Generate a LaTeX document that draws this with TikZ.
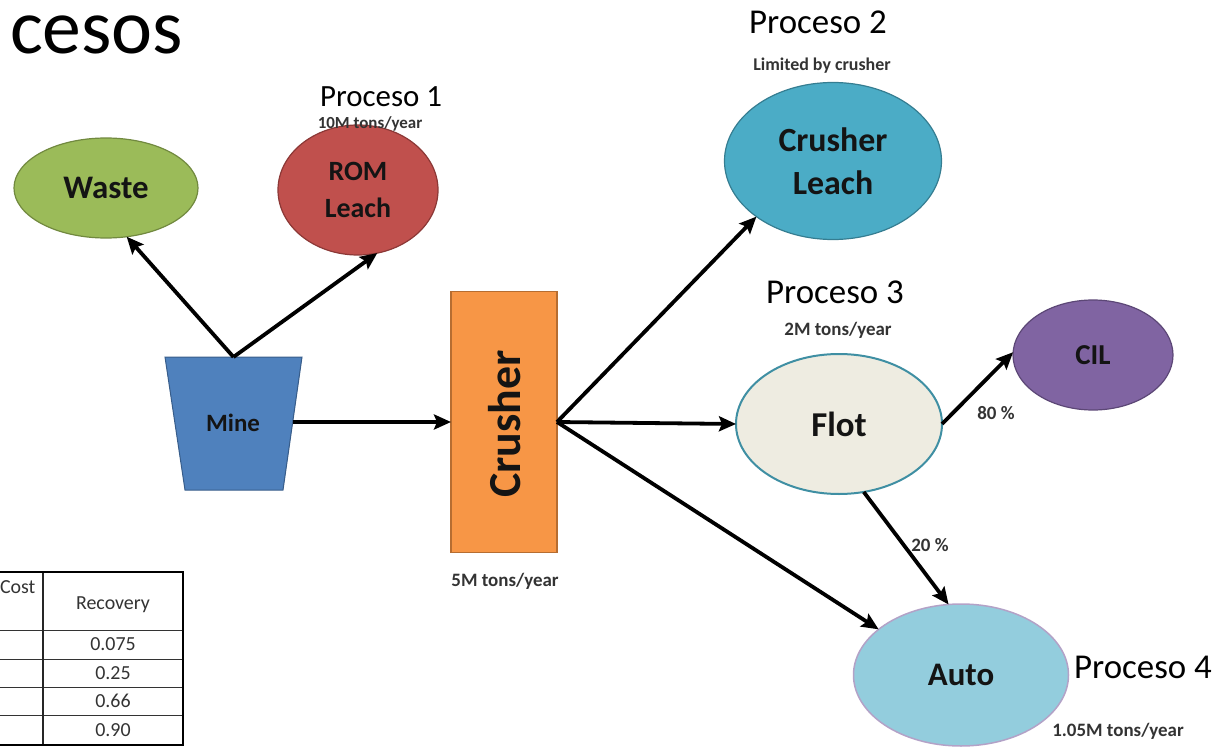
\documentclass[tikz,border=0pt]{standalone}
\usepackage{fontspec}
\setmainfont{Carlito}
\usetikzlibrary{shapes.geometric,arrows.meta}
\definecolor{wastec}{HTML}{9BBB59}\definecolor{wasteb}{HTML}{71893F}
\definecolor{romc}{HTML}{C0504D}\definecolor{romb}{HTML}{8C3836}
\definecolor{minec}{HTML}{4F81BD}\definecolor{mineb}{HTML}{385D8A}
\definecolor{crushc}{HTML}{F79646}\definecolor{crushb}{HTML}{B66D31}
\definecolor{clc}{HTML}{4BACC6}\definecolor{clb}{HTML}{357D91}
\definecolor{flotc}{HTML}{EEECE1}\definecolor{flotb}{HTML}{3F8FA3}
\definecolor{cilc}{HTML}{8064A2}\definecolor{cilb}{HTML}{5C4776}
\definecolor{autoc}{HTML}{93CDDD}\definecolor{autob}{HTML}{B3A2C7}
\definecolor{txt}{HTML}{141414}
\begin{document}
\begin{tikzpicture}[x=1bp,y=-1bp,
  every node/.style={inner sep=0pt,outer sep=0pt},
  proc/.style={ellipse,line width=1.2bp,align=center,text=txt},
  flow/.style={line width=3.8bp,-{Stealth[length=17bp,width=15bp,inset=3bp]}},
  ptitle/.style={font=\fontsize{35}{40}\selectfont},
  ratelbl/.style={font=\bfseries\fontsize{19}{21}\selectfont,text=black!80},
  tab/.style={font=\fontsize{20}{22}\selectfont,text=black!80}]
\useasboundingbox (0,0) rectangle (1227,748);
% title
\node[anchor=base west,font=\fontsize{78}{84}\selectfont] (title) at (10,54) {cesos};
% nodes
\node[proc,fill=wastec,draw=wasteb,minimum width=184bp,minimum height=100bp,font=\bfseries\fontsize{33}{36}\selectfont] (waste) at (106,188) {Waste};
\node[proc,fill=romc,draw=romb,minimum width=160bp,minimum height=130bp,font=\bfseries\fontsize{28}{37}\selectfont] (rom) at (358,190) {ROM\\Leach};
\path[fill=minec,draw=mineb,line width=1bp] (165,357) -- (302,357) -- (283,490) -- (185,490) -- cycle;
\coordinate (minetop) at (233.5,357);
\coordinate (mineright) at (292.5,422);
\node[font=\bfseries\fontsize{25}{28}\selectfont,text=txt] (mine) at (233,423) {Mine};
\node[rectangle,fill=crushc,draw=crushb,line width=1.2bp,minimum width=106bp,minimum height=261bp] (crusher) at (504,422) {};
\node[rotate=90,font=\bfseries\fontsize{46}{50}\selectfont,text=txt] (crushertxt) at (505,424) {Crusher};
\node[proc,fill=clc,draw=clb,minimum width=217bp,minimum height=157bp,font=\bfseries\fontsize{34}{43}\selectfont] (cleach) at (833,161) {Crusher\\Leach};
\node[proc,fill=flotc,draw=flotb,line width=2bp,minimum width=206bp,minimum height=140bp,font=\bfseries\fontsize{35}{40}\selectfont] (flot) at (839,424) {Flot};
\node[proc,fill=cilc,draw=cilb,minimum width=160bp,minimum height=110bp,font=\bfseries\fontsize{29}{34}\selectfont] (cil) at (1093,355) {CIL};
\node[proc,fill=autoc,draw=autob,line width=1.5bp,minimum width=215bp,minimum height=142bp,font=\bfseries\fontsize{33}{36}\selectfont] (auto) at (961,675) {Auto};
% labels
\node[font=\fontsize{31}{34}\selectfont] (p1) at (381,97) {Proceso 1};
\node[ratelbl,font=\bfseries\fontsize{17}{19}\selectfont] (c1) at (370,124) {10M tons/year};
\node[ptitle] (p2) at (818,22) {Proceso 2};
\node[ratelbl,font=\bfseries\fontsize{18}{20}\selectfont] (c2) at (822,66) {Limited by crusher};
\node[ptitle] (p3) at (835,292) {Proceso 3};
\node[ratelbl] (c3) at (838,330) {2M tons/year};
\node[ptitle] (p4) at (1143,667) {Proceso 4};
\node[ratelbl] (c4) at (1118,731) {1.05M tons/year};
\node[ratelbl] (c5) at (505,581) {5M tons/year};
\node[ratelbl] (pct80) at (996,413) {80 \%};
\node[ratelbl] (pct20) at (930,545) {20 \%};
% arrows
\draw[flow] (minetop) -- (waste.-67);
\draw[flow] (minetop) -- (rom.-73);
\draw[flow] (mineright) -- (crusher.west);
\draw[flow] (crusher.east) -- (cleach.-144);
\draw[flow] (crusher.east) -- (flot.west);
\draw[flow] (crusher.east) -- (auto.151);
\draw[flow] (flot.east) -- (cil.178);
\draw[flow] (flot.-70) -- (auto.100);
% table
\draw[line width=0.8bp,black!80] (0,630) -- (183,630) (0,659) -- (183,659) (0,687) -- (183,687) (0,715) -- (183,715);
\draw[line width=1.2bp,black!85] (43,572) -- (43,745);
\draw[line width=1.8bp] (0,572) -- (183,572) -- (183,745) -- (0,745);
\node[tab,anchor=base west] (cost) at (0,593) {Cost};
\node[tab] (rec) at (113,605) {Recovery};
\node[tab] (r1) at (113,644) {0.075};
\node[tab] (r2) at (113,673) {0.25};
\node[tab] (r3) at (113,701) {0.66};
\node[tab] (r4) at (113,730) {0.90};
\end{tikzpicture}
\end{document}
